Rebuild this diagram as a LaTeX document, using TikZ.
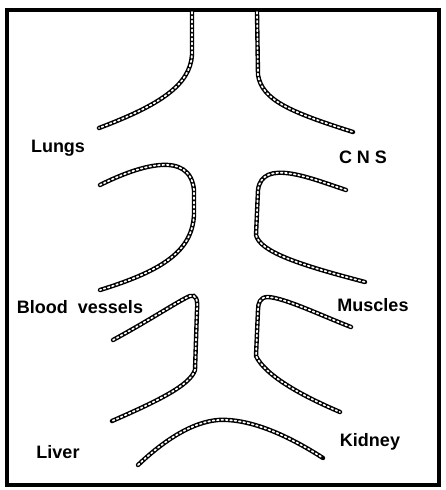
\documentclass[tikz,border=0pt]{standalone}
\usepackage{fontspec}
\setmainfont{Liberation Sans}
\begin{document}
\begin{tikzpicture}[x=1pt, y=-1pt,
  tube/.style={black, line width=4.4pt, line cap=round,
    postaction={draw, white, line width=1.7pt, dash pattern=on 1.8pt off 2.6pt}},
  frame/.style={black, line width=3.6pt},
  organ/.style={font=\bfseries\fontsize{18}{20}\selectfont, inner sep=0pt}]
\useasboundingbox (0,0) rectangle (446,490);
% ---- outer frame ----
\draw[frame] (7,10) rectangle (439,485);
% ---- main vessel (top), splitting to lungs and CNS ----
\draw[tube] (192,12) -- (192,55) .. controls (190,85) and (160,105) .. (99,128);
\draw[tube] (257,12) -- (258,75) .. controls (262,100) and (290,112) .. (353,132);
% ---- second pair of loops ----
\draw[tube] (100,185) .. controls (140,165) and (190,150) .. (194,190)
  -- (194,215) .. controls (192,250) and (165,270) .. (100,290);
\draw[tube] (346,190) .. controls (310,178) and (262,158) .. (258,190)
  -- (256,235) .. controls (260,252) and (300,265) .. (365,282);
% ---- third pair of loops ----
\draw[tube] (113,340) .. controls (150,320) and (180,300) .. (190,296)
  .. controls (196,294) and (198,300) .. (197,310)
  -- (195,370) .. controls (190,385) and (160,400) .. (112,421);
\draw[tube] (351,327) .. controls (320,315) and (285,298) .. (268,297)
  .. controls (260,297) and (258,303) .. (258,310)
  -- (256,356) .. controls (265,375) and (300,395) .. (340,412);
% ---- bottom arch ----
\draw[tube] (138,465) .. controls (175,430) and (205,418) .. (228,420)
  .. controls (260,422) and (295,440) .. (323,458);
% ---- labels ----
\node[organ] (lungs)   at (58,148)  {Lungs};
\node[organ] (cns)     at (363,157) {C N S};
\node[organ] (blood)   at (80,307)  {Blood\ \ vessels};
\node[organ] (muscles) at (373,305) {Muscles};
\node[organ] (liver)   at (58,452)  {Liver};
\node[organ] (kidney)  at (370,442) {Kidney};
\end{tikzpicture}
\end{document}
